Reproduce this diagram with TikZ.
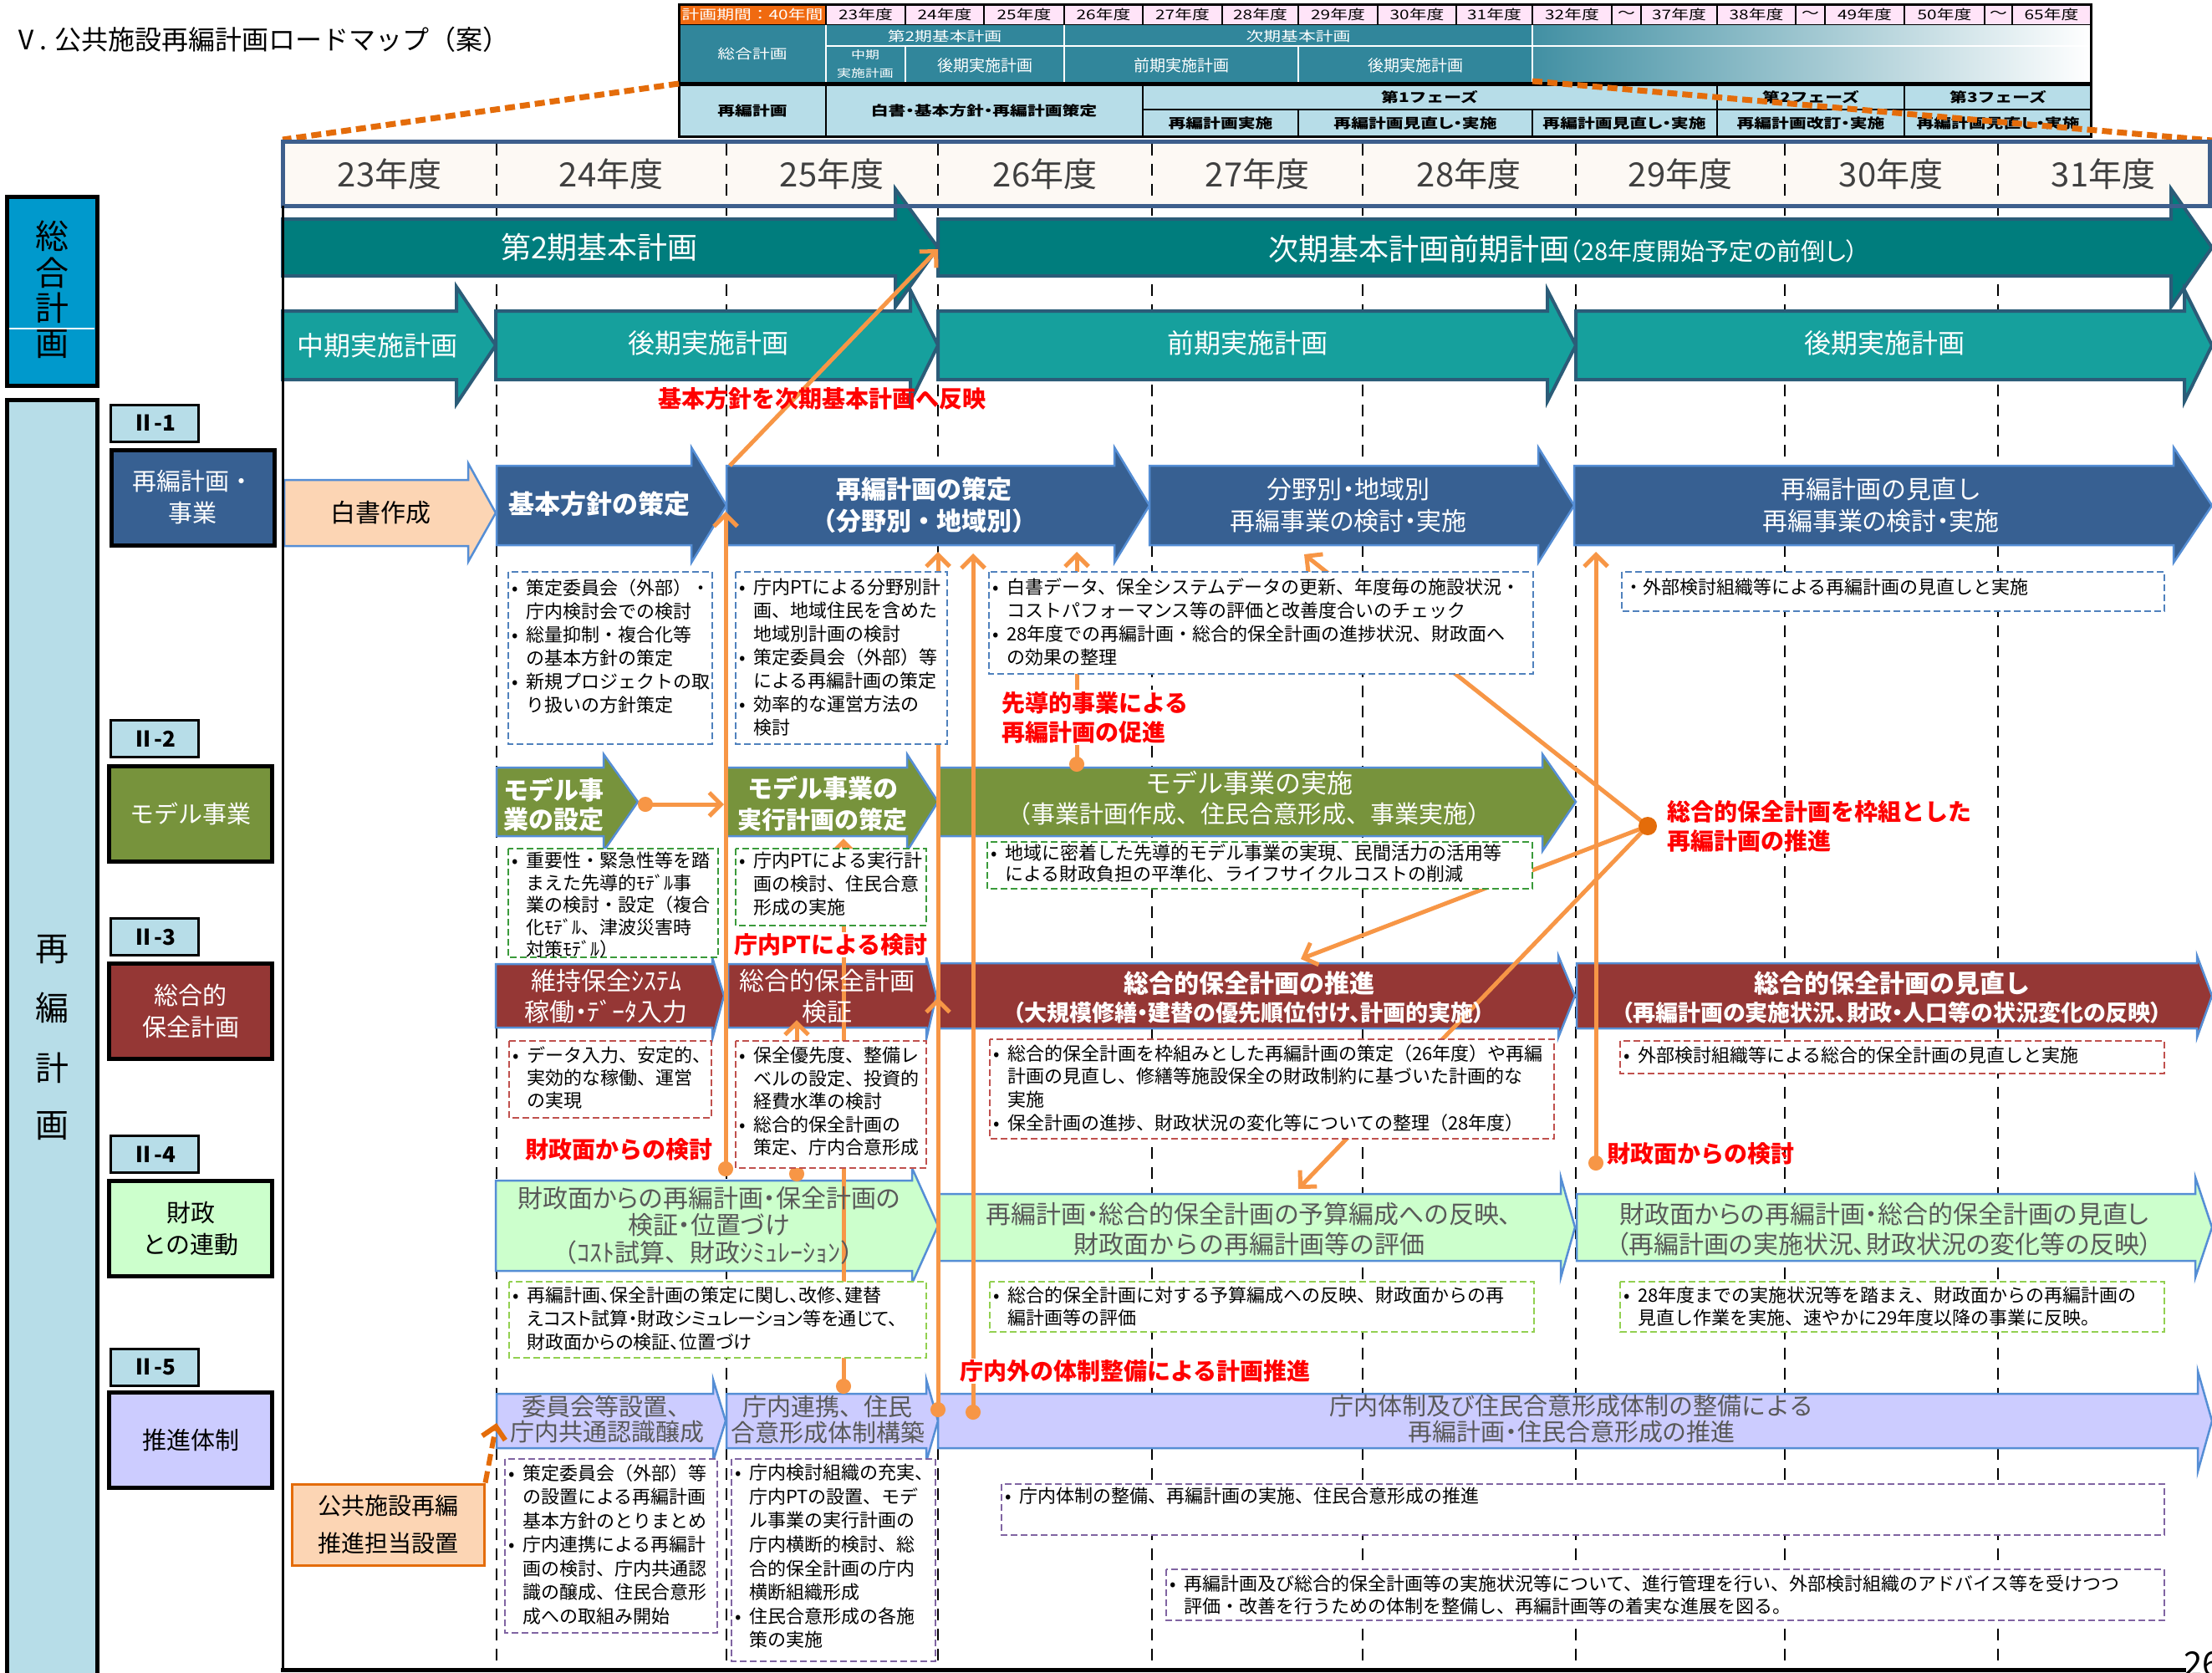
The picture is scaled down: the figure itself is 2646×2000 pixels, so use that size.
\documentclass[tikz,border=0pt]{standalone}
\usepackage{fontspec}
\setmainfont{Noto Sans CJK JP}
\usepackage{graphicx}
\usetikzlibrary{arrows.meta}
\pgfdeclarelayer{base}\pgfdeclarelayer{shapes}\pgfdeclarelayer{conn}
\pgfsetlayers{base,shapes,conn,main}
\definecolor{tealA}{HTML}{007D7D}
\definecolor{tealB}{HTML}{16A09D}
\definecolor{tealbd}{HTML}{2B5C78}
\definecolor{dblue}{HTML}{376092}
\definecolor{lblue}{HTML}{558ED5}
\definecolor{oliveg}{HTML}{77933C}
\definecolor{dred}{HTML}{953735}
\definecolor{lgreen}{HTML}{CCFFCC}
\definecolor{lav}{HTML}{CCCCFF}
\definecolor{peach}{HTML}{FCD5B4}
\definecolor{labblue}{HTML}{B7DDE8}
\definecolor{skyb}{HTML}{0099CC}
\definecolor{orng}{HTML}{F79646}
\definecolor{orngd}{HTML}{E46C0A}
\definecolor{hdrbd}{HTML}{3E5F8C}
\definecolor{cream}{HTML}{FDF9F4}
\definecolor{pinkc}{HTML}{FFE4F8}
\definecolor{tabteal}{HTML}{31869B}
\definecolor{orcell}{HTML}{F06A10}
\definecolor{nblue}{HTML}{4F81BD}
\definecolor{ngreen}{HTML}{3A9A3A}
\definecolor{nred}{HTML}{C0504D}
\definecolor{nlgreen}{HTML}{92D050}
\definecolor{npurple}{HTML}{8064A2}
\definecolor{txtgray}{HTML}{595959}
\definecolor{yrgray}{HTML}{404040}
\newcommand{\fz}[1]{\fontsize{#1}{\fpeval{1.22*#1}}\selectfont}
\newcommand{\bul}{\makebox[17pt][l]{•}}
\newcommand{\ind}{\hspace*{17pt}}
\newcommand{\tbx}[1]{\scalebox{1.3}[1]{#1}}
\newcommand{\palt}{\addfontfeature{RawFeature=+palt}}
\newcommand{\harr}[8]{\begin{pgfonlayer}{shapes}\path[#1] (#2,#5) -- (#3,#5) -- (#3,#7) -- (#4,{(#5+#6)/2}) -- (#3,#8) -- (#3,#6) -- (#2,#6) -- cycle;\end{pgfonlayer}}
\begin{document}
\begin{tikzpicture}[x=1pt,y=-1pt,
  tbt/.style={inner sep=0, font={\fz{16}}},
  tbw/.style={inner sep=0, font={\fz{16}}, text=white},
  tbb/.style={inner sep=0, font={\bfseries\fz{16}}},
  yr/.style={font={\fz{40}}, text=yrgray, inner sep=0},
  wt/.style={text=white, inner sep=0},
  gt/.style={text=txtgray, inner sep=0},
  ntext/.style={anchor=north west, inner sep=0, align=left, font={\fontsize{22}{28}\selectfont}},
  rlab/.style={text=red, font={\bfseries\fontsize{28}{35}\selectfont}, inner sep=2pt, align=left},
  oc/.style={draw=orng, line width=5pt, {Circle[length=18pt]}-{Straight Barb[length=14pt,width=28pt]}},
  oa/.style={draw=orng, line width=5pt, -{Straight Barb[length=14pt,width=28pt]}},
  yrline/.style={draw=black, line width=2pt, dash pattern=on 14pt off 10pt},
  secbox/.style={draw=black, line width=5pt, inner sep=0, align=center, minimum width=195pt, minimum height=114pt, font={\fontsize{29}{38}\selectfont}},
  seclab/.style={draw=black, line width=3pt, fill=labblue, inner sep=0, minimum width=105pt, minimum height=44pt, font={\bfseries\fz{26}}},
  aTA/.style={fill=tealA, draw=tealbd, line width=4pt},
  aTB/.style={fill=tealB, draw=tealbd, line width=4pt},
  aDB/.style={fill=dblue, draw=lblue, line width=2.5pt},
  aOL/.style={fill=oliveg, draw=lblue, line width=2.5pt},
  aDR/.style={fill=dred, draw=lblue, line width=2.5pt},
  aLG/.style={fill=lgreen, draw=lblue, line width=2.5pt},
  aLV/.style={fill=lav, draw=lblue, line width=2.5pt},
  aPE/.style={fill=peach, draw=lblue, line width=2.5pt},
  nb/.style={fill=white, line width=2.5pt, dash pattern=on 8pt off 4pt}
]
\useasboundingbox (0,0) rectangle (2646,2000);
\begin{pgfonlayer}{base}
\fill[white] (0,0) rectangle (2646,2000);
\path[fill=cream] (338,169) rectangle (2643,246);
\foreach \x in {594,869,1122,1378,1630,1885,2135,2390} \draw[yrline] (\x,172) -- (\x,1995);
\end{pgfonlayer}

% ---------- title ----------
\node[anchor=west, inner sep=0, font={\fz{32}}] (title) at (15,47) {Ⅴ. 公共施設再編計画ロードマップ（案）};

% ---------- top table ----------
\path[fill=orcell, draw=black, line width=1.5pt] (812,5) rectangle (988,30);
\node[tbw] (tperiod) at (900,17.5) {\tbx{計画期間：40年間}};
\foreach \a/\b/\t in {988/1083/23年度,1083/1177/24年度,1177/1273/25年度,1273/1367/26年度,1367/1462/27年度,1462/1553/28年度,1553/1648/29年度,1648/1742/30年度,1742/1833/31年度,1833/1928/32年度,1928/1963/～,1963/2054/37年度,2054/2148/38年度,2148/2183/～,2183/2278/49年度,2278/2374/50年度,2374/2407/～,2407/2501/65年度}{
  \path[fill=pinkc, draw=black, line width=1.5pt] (\a,5) rectangle (\b,30);
  \node[tbt] (ty\a) at ({(\a+\b)/2},17.5) {\tbx{\t}};
}
\fill[tabteal] (812,30) rectangle (1833,98);
\shade[left color=tabteal!92, right color=white] (1833,30) rectangle (2501,98);
\draw[white, line width=2pt] (988,55) -- (2501,55);
\draw[white, line width=2pt] (988,30) -- (988,98) (1273,30) -- (1273,98) (1833,30) -- (1833,98) (1083,55) -- (1083,98) (1553,55) -- (1553,98);
\node[tbw] (tg1) at (900,64) {\tbx{総合計画}};
\node[tbw] (tg2) at (1130,43) {\tbx{第2期基本計画}};
\node[tbw] (tg3) at (1553,43) {\tbx{次期基本計画}};
\node[wt, font={\fz{13}}] (tg4) at (1035,66) {\tbx{中期}};
\node[wt, font={\fz{13}}] (tg5) at (1035,88) {\tbx{実施計画}};
\node[wt, font={\fz{19}}] (tg6) at (1178,78) {後期実施計画};
\node[wt, font={\fz{19}}] (tg7) at (1413,78) {前期実施計画};
\node[wt, font={\fz{19}}] (tg8) at (1693,78) {後期実施計画};
\fill[labblue] (812,100) rectangle (2501,163);
\draw[black, line width=1.5pt] (988,100) -- (988,163) (1367,100) -- (1367,163) (2054,100) -- (2054,163) (2278,100) -- (2278,163) (1367,131) -- (2501,131) (1553,131) -- (1553,163) (1833,131) -- (1833,163);
\draw[black, line width=5pt] (812,100) -- (2501,100);
\draw[black, line width=3pt] (812,5) rectangle (2501,163);
\node[tbb] (tr1) at (900,132) {\tbx{再編計画}};
\node[tbb] (tr2) at (1177,132) {\tbx{\palt 白書・基本方針・再編計画策定}};
\node[tbb] (tr3) at (1710,116) {\tbx{第1フェーズ}};
\node[tbb] (tr4) at (2166,116) {\tbx{第2フェーズ}};
\node[tbb] (tr5) at (2390,116) {\tbx{第3フェーズ}};
\node[tbb] (tr6) at (1460,147) {\tbx{再編計画実施}};
\node[tbb] (tr7) at (1693,147) {\tbx{\palt 再編計画見直し・実施}};
\node[tbb] (tr8) at (1943,147) {\tbx{\palt 再編計画見直し・実施}};
\node[tbb] (tr9) at (2166,147) {\tbx{\palt 再編計画改訂・実施}};
\node[tbb] (tr10) at (2390,147) {\tbx{\palt 再編計画見直し・実施}};
\coordinate (zl1) at (812,100); \coordinate (zl2) at (338,167);
\coordinate (zr1) at (1833,97); \coordinate (zr2) at (2646,168);
\draw[orngd, line width=7pt, dash pattern=on 12pt off 6pt] (zl1) -- (zl2);
\draw[orngd, line width=7pt, dash pattern=on 12pt off 6pt] (zr1) -- (zr2);

% ---------- header band ----------
\draw[hdrbd, line width=5pt] (338,169) rectangle (2643,246);
\foreach \x/\t in {466/23,731/24,995/25,1250/26,1504/27,1757/28,2010/29,2262/30,2516/31}
  \node[yr] (yr\t) at (\x,208) {\t 年度};

% ---------- left labels ----------
\draw[fill=skyb, draw=black, line width=5pt] (8,235) rectangle (116,461);
\draw[white, line width=2pt] (11,393) -- (113,393);
\foreach \y/\c/\n in {282/総/a,326/合/b,368/計/c,412/画/d}
  \node[inner sep=0, font={\fz{40}}] (sg\n) at (62,\y) {\c};
\draw[fill=labblue, draw=black, line width=5pt] (8,478) rectangle (116,2010);
\foreach \y/\c/\n in {1136/再/a,1205/編/b,1277/計/c,1347/画/d}
  \node[inner sep=0, font={\fz{40}}] (sr\n) at (62,\y) {\c};

\node[seclab] (l1) at (184.5,506) {Ⅱ-1};
\node[seclab] (l2) at (184.5,883.5) {Ⅱ-2};
\node[seclab] (l3) at (184.5,1120.5) {Ⅱ-3};
\node[seclab] (l4) at (184.5,1380.5) {Ⅱ-4};
\node[seclab] (l5) at (184.5,1635) {Ⅱ-5};
\node[secbox, fill=dblue, text=white] (s1) at (230.5,595) {再編計画・\\事業};
\node[secbox, fill=oliveg, text=white] (s2) at (228,973) {モデル事業};
\node[secbox, fill=dred, text=white] (s3) at (228,1209) {総合的\\保全計画};
\node[secbox, fill=lgreen] (s4) at (228,1469.5) {財政\\との連動};
\node[secbox, fill=lav] (s5) at (228,1722.5) {推進体制};

% frame
\draw[black, line width=3pt] (338,246) -- (338,1997);
\draw[black, line width=5pt] (336,1997) -- (2615,1997);
\node[anchor=west, inner sep=0, font={\itshape\fz{40}}] (pg) at (2612,1990) {26};

% ---------- 総合計画 arrows ----------
\harr{aTA}{338}{1071}{1122}{262}{330}{226}{367}
\node[wt, font={\fz{36}}] (t1) at (717,296) {第2期基本計画};
\harr{aTA}{1122}{2597}{2646}{262}{330}{226}{367}
\node[wt, font={\fz{36}}] (t2) at (1870,298) {次期基本計画前期計画{\palt\fz{29}（28年度開始予定の前倒し）}};
\harr{aTB}{338}{546}{593}{372}{454}{343}{483}
\node[wt, font={\fz{32}}] (t3) at (451,413) {中期実施計画};
\harr{aTB}{593}{1089}{1122}{372}{454}{347}{480}
\node[wt, font={\fz{32}}] (t4) at (847,410) {後期実施計画};
\harr{aTB}{1122}{1851}{1885}{372}{454}{347}{480}
\node[wt, font={\fz{32}}] (t5) at (1492,410) {前期実施計画};
\harr{aTB}{1885}{2613}{2646}{372}{454}{347}{480}
\node[wt, font={\fz{32}}] (t6) at (2254,410) {後期実施計画};

% ---------- II-1 ----------
\harr{aPE}{340}{560}{593}{574}{653}{554}{672}
\node[inner sep=0, font={\fz{30}}] (a1) at (455,613) {白書作成};
\harr{aDB}{594}{827}{869}{557}{652}{535}{673}
\node[wt, font={\bfseries\fz{31}}] (a2) at (717,603) {基本方針の策定};
\harr{aDB}{869}{1333}{1375}{557}{652}{535}{673}
\node[wt, font={\bfseries\fz{30}}] (a3a) at (1105,585) {再編計画の策定};
\node[wt, font={\bfseries\fz{30}}] (a3b) at (1105,623) {（分野別・地域別）};
\harr{aDB}{1375}{1840}{1883}{557}{652}{535}{673}
\node[wt, font={\fz{30}}] (a4a) at (1613,585) {\palt 分野別・地域別};
\node[wt, font={\fz{30}}] (a4b) at (1613,623) {\palt 再編事業の検討・実施};
\harr{aDB}{1883}{2600}{2646}{557}{652}{535}{673}
\node[wt, font={\fz{30}}] (a5a) at (2250,585) {再編計画の見直し};
\node[wt, font={\fz{30}}] (a5b) at (2250,623) {\palt 再編事業の検討・実施};

% ---------- II-2 ----------
\harr{aOL}{594}{722}{763}{918}{1000}{902}{1018}
\node[wt, font={\bfseries\fz{30}}, anchor=west] (b1a) at (602,945) {モデル事};
\node[wt, font={\bfseries\fz{30}}, anchor=west] (b1b) at (602,980) {業の設定};
\harr{aOL}{869}{1085}{1122}{918}{1000}{902}{1018}
\node[wt, font={\bfseries\fz{30}}] (b2a) at (984,943) {モデル事業の};
\node[wt, font={\bfseries\fz{29}}] (b2b) at (984,980) {実行計画の策定};
\harr{aOL}{1122}{1845}{1885}{918}{1000}{902}{1018}
\node[wt, font={\fz{31}}] (b3a) at (1494,937) {モデル事業の実施};
\node[wt, font={\fz{29}}] (b3b) at (1494,973) {（事業計画作成、住民合意形成、事業実施）};

% ---------- II-3 ----------
\harr{aDR}{593}{852}{866}{1153}{1229}{1145}{1243}
\node[wt, font={\fz{30}}] (c1a) at (725,1173) {維持保全ｼｽﾃﾑ};
\node[wt, font={\fz{30}}] (c1b) at (725,1210) {\palt 稼働・ﾃﾞｰﾀ入力};
\harr{aDR}{871}{1108}{1120}{1153}{1229}{1145}{1243}
\node[wt, font={\fz{30}}] (c2a) at (989,1173) {総合的保全計画};
\node[wt, font={\fz{30}}] (c2b) at (989,1210) {検証};
\harr{aDR}{1122}{1864}{1884}{1152}{1230}{1143}{1241}
\node[wt, font={\bfseries\fz{30}}] (c3a) at (1494,1176) {総合的保全計画の推進};
\node[wt, font={\bfseries\fz{27}}] (c3b) at (1494,1211) {\palt（大規模修繕・建替の優先順位付け、計画的実施）};
\harr{aDR}{1886}{2628}{2646}{1152}{1230}{1143}{1241}
\node[wt, font={\bfseries\fz{30}}] (c4a) at (2263,1176) {総合的保全計画の見直し};
\node[wt, font={\bfseries\fz{27}}] (c4b) at (2263,1211) {\palt（再編計画の実施状況、財政・人口等の状況変化の反映）};

% ---------- II-4 ----------
\harr{aLG}{593}{1091}{1122}{1412}{1520}{1397}{1535}
\node[gt, font={\fz{30}}] (d1a) at (848,1433) {\palt 財政面からの再編計画・保全計画の};
\node[gt, font={\fz{30}}] (d1b) at (848,1465) {\palt 検証・位置づけ};
\node[gt, font={\fz{30}}] (d1c) at (848,1498) {（ｺｽﾄ試算、財政ｼﾐｭﾚｰｼｮﾝ）};
\harr{aLG}{1122}{1867}{1884}{1428}{1508}{1408}{1528}
\node[gt, font={\fz{30}}] (d2a) at (1494,1452) {\palt 再編計画・総合的保全計画の予算編成への反映、};
\node[gt, font={\fz{30}}] (d2b) at (1494,1488) {財政面からの再編計画等の評価};
\harr{aLG}{1886}{2626}{2646}{1428}{1508}{1408}{1528}
\node[gt, font={\fz{30}}] (d3a) at (2254,1452) {\palt 財政面からの再編計画・総合的保全計画の見直し};
\node[gt, font={\fz{30}}] (d3b) at (2254,1488) {\palt（再編計画の実施状況、財政状況の変化等の反映）};

% ---------- II-5 ----------
\harr{aLV}{594}{853}{868}{1667}{1732}{1650}{1748}
\node[gt, font={\fz{29}}] (e1a) at (726,1682) {委員会等設置、};
\node[gt, font={\fz{29}}] (e1b) at (726,1713) {庁内共通認識醸成};
\harr{aLV}{869}{1108}{1122}{1667}{1732}{1650}{1748}
\node[gt, font={\fz{29}}] (e2a) at (990,1682) {庁内連携、住民};
\node[gt, font={\fz{29}}] (e2b) at (990,1713) {合意形成体制構築};
\harr{aLV}{1122}{2629}{2646}{1667}{1732}{1640}{1760}
\node[gt, font={\fz{29}}] (e3a) at (1880,1682) {庁内体制及び住民合意形成体制の整備による};
\node[gt, font={\fz{29}}] (e3b) at (1880,1713) {\palt 再編計画・住民合意形成の推進};

\node[draw=orngd, fill=peach, line width=3pt, minimum width=230pt, minimum height=97pt, inner sep=0, align=center, font={\fontsize{28}{45}\selectfont}] (kb) at (464,1823.5) {公共施設再編\\推進担当設置};

% ---------- orange connectors ----------
\begin{pgfonlayer}{conn}
\coordinate (p1s) at (873,557); \coordinate (p1e) at (1122,298);
\draw[oa] (p1s) -- (p1e);
\coordinate (p2s) at (868,1407); \coordinate (p2e) at (868,612);
\draw[oc] (p2s) -- (p2e);
\coordinate (p3s) at (1009,1667); \coordinate (p3e) at (1009,1003);
\draw[oc] (p3s) -- (p3e);
\coordinate (p4s) at (953,1413); \coordinate (p4e) at (953,1220);
\draw[oc] (p4s) -- (p4e);
\coordinate (p5s) at (1122,1695); \coordinate (p5e) at (1122,660);
\draw[oc] (p5s) -- (p5e);
\coordinate (p5m1) at (1122,1220); \coordinate (p5m2) at (1122,1193);
\draw[oa] (p5m1) -- (p5m2);
\coordinate (p6s) at (1164,1698); \coordinate (p6e) at (1164,662);
\draw[oc] (p6s) -- (p6e);
\coordinate (p7s) at (1288,923); \coordinate (p7e) at (1288,660);
\draw[oc] (p7s) -- (p7e);
\coordinate (p8s) at (1909,1400); \coordinate (p8e) at (1909,660);
\draw[oc] (p8s) -- (p8e);
\coordinate (hub) at (1971,988);
\coordinate (h1) at (1560,663); \coordinate (h2) at (1556,1147); \coordinate (h3) at (1553,1422);
\draw[oa] (hub) -- (h1);
\draw[oa] (hub) -- (h2);
\draw[oa] (hub) -- (h3);
\fill[orngd] (hub) circle (11pt);
\coordinate (m1) at (763,962); \coordinate (m2) at (866,962);
\draw[oc] (m1) -- (m2);
\coordinate (k1) at (kb.north east); \coordinate (k2) at (594,1702);
\draw[draw=orngd, line width=6pt, dash pattern=on 14pt off 7pt, -{Straight Barb[length=14pt,width=28pt]}] (k1) -- (k2);
\end{pgfonlayer}

% ---------- notes ----------
\draw[nb, draw=nblue] (608,684) rectangle (852,890);
\node[ntext] (nA) at (612,692) {\bul 策定委員会（外部）・\\\ind 庁内検討会での検討\\\bul 総量抑制・複合化等\\\ind の基本方針の策定\\\bul 新規プロジェクトの取\\\ind り扱いの方針策定};
\draw[nb, draw=nblue] (880,684) rectangle (1133,890);
\node[ntext] (nB) at (884,692) {\bul 庁内PTによる分野別計\\\ind 画、地域住民を含めた\\\ind 地域別計画の検討\\\bul 策定委員会（外部）等\\\ind による再編計画の策定\\\bul 効率的な運営方法の\\\ind 検討};
\draw[nb, draw=nblue] (1183,684) rectangle (1834,806);
\node[ntext] (nC) at (1187,692) {\bul 白書データ、保全システムデータの更新、年度毎の施設状況・\\\ind コストパフォーマンス等の評価と改善度合いのチェック\\\bul 28年度での再編計画・総合的保全計画の進捗状況、財政面へ\\\ind の効果の整理};
\draw[nb, draw=nblue] (1940,684) rectangle (2589,731);
\node[ntext] (nD) at (1943,692) {・外部検討組織等による再編計画の見直しと実施};

\draw[nb, draw=ngreen] (608,1015) rectangle (859,1145);
\node[ntext, font={\fontsize{22}{26.5}\selectfont}] (nE) at (612,1019) {\bul 重要性・緊急性等を踏\\\ind まえた先導的ﾓﾃﾞﾙ事\\\ind 業の検討・設定（複合\\\ind 化ﾓﾃﾞﾙ、津波災害時\\\ind 対策ﾓﾃﾞﾙ）};
\draw[nb, draw=ngreen] (880,1015) rectangle (1108,1107);
\node[ntext] (nF) at (884,1019) {\bul 庁内PTによる実行計\\\ind 画の検討、住民合意\\\ind 形成の実施};
\draw[nb, draw=ngreen] (1181,1007) rectangle (1833,1063);
\node[ntext, font={\fontsize{22}{25}\selectfont}] (nG) at (1185,1010) {\bul 地域に密着した先導的モデル事業の実現、民間活力の活用等\\\ind による財政負担の平準化、ライフサイクルコストの削減};

\draw[nb, draw=nred] (609,1245) rectangle (851,1337);
\node[ntext, font={\fontsize{22}{27}\selectfont}] (nH) at (613,1252) {\bul データ入力、安定的、\\\ind 実効的な稼働、運営\\\ind の実現};
\draw[nb, draw=nred] (880,1245) rectangle (1108,1397);
\node[ntext, font={\fontsize{22}{27.5}\selectfont}] (nI) at (884,1252) {\bul 保全優先度、整備レ\\\ind ベルの設定、投資的\\\ind 経費水準の検討\\\bul 総合的保全計画の\\\ind 策定、庁内合意形成};
\draw[nb, draw=nred] (1184,1243) rectangle (1859,1362);
\node[ntext, font={\fontsize{22}{27.7}\selectfont}] (nJ) at (1188,1249) {\bul 総合的保全計画を枠組みとした再編計画の策定（26年度）や再編\\\ind 計画の見直し、修繕等施設保全の財政制約に基づいた計画的な\\\ind 実施\\\bul 保全計画の進捗、財政状況の変化等についての整理（28年度）};
\draw[nb, draw=nred] (1938,1245) rectangle (2589,1284);
\node[ntext] (nK) at (1942,1252) {\bul 外部検討組織等による総合的保全計画の見直しと実施};

\draw[nb, draw=nlgreen] (609,1533) rectangle (1108,1624);
\node[ntext, font={\palt\fontsize{22}{28}\selectfont}] (nL) at (613,1539) {\bul 再編計画、保全計画の策定に関し、改修、建替\\\ind えコスト試算・財政シミュレーション等を通じて、\\\ind 財政面からの検証、位置づけ};
\draw[nb, draw=nlgreen] (1184,1533) rectangle (1835,1593);
\node[ntext, font={\fontsize{22}{27}\selectfont}] (nM) at (1188,1539) {\bul 総合的保全計画に対する予算編成への反映、財政面からの再\\\ind 編計画等の評価};
\draw[nb, draw=nlgreen] (1938,1533) rectangle (2589,1593);
\node[ntext, font={\fontsize{22}{27}\selectfont}] (nN) at (1942,1539) {\bul 28年度までの実施状況等を踏まえ、財政面からの再編計画の\\\ind 見直し作業を実施、速やかに29年度以降の事業に反映。};

\draw[nb, draw=npurple] (604,1745) rectangle (858,1953);
\node[ntext, font={\fontsize{22}{28.5}\selectfont}] (nO) at (608,1751) {\bul 策定委員会（外部）等\\\ind の設置による再編計画\\\ind 基本方針のとりまとめ\\\bul 庁内連携による再編計\\\ind 画の検討、庁内共通認\\\ind 識の醸成、住民合意形\\\ind 成への取組み開始};
\draw[nb, draw=npurple] (875,1745) rectangle (1119,1987);
\node[ntext, font={\fontsize{22}{28.6}\selectfont}] (nP) at (879,1751) {\bul 庁内検討組織の充実、\\\ind 庁内PTの設置、モデ\\\ind ル事業の実行計画の\\\ind 庁内横断的検討、総\\\ind 合的保全計画の庁内\\\ind 横断組織形成\\\bul 住民合意形成の各施\\\ind 策の実施};
\draw[nb, draw=npurple] (1198,1775) rectangle (2589,1836);
\node[ntext] (nQ) at (1202,1779) {\bul 庁内体制の整備、再編計画の実施、住民合意形成の推進};
\draw[nb, draw=npurple] (1395,1877) rectangle (2589,1938);
\node[ntext, font={\fontsize{22}{27}\selectfont}] (nR) at (1399,1884) {\bul 再編計画及び総合的保全計画等の実施状況等について、進行管理を行い、外部検討組織のアドバイス等を受けつつ\\\ind 評価・改善を行うための体制を整備し、再編計画等の着実な進展を図る。};

% ---------- red labels ----------
\node[rlab] (r1) at (983,477) {基本方針を次期基本計画へ反映};
\node[rlab, fill=white, anchor=north west] (r2) at (1196,825) {先導的事業による\\再編計画の促進};
\node[rlab, fill=white, anchor=north west] (r3) at (1992,955) {総合的保全計画を枠組とした\\再編計画の推進};
\node[rlab, fill=white] (r4) at (994,1130) {庁内PTによる検討};
\node[rlab] (r5) at (740,1375) {財政面からの検討};
\node[rlab] (r6) at (2034,1380) {財政面からの検討};
\node[rlab, fill=white] (r7) at (1358,1640) {庁内外の体制整備による計画推進};
\end{tikzpicture}
\end{document}
